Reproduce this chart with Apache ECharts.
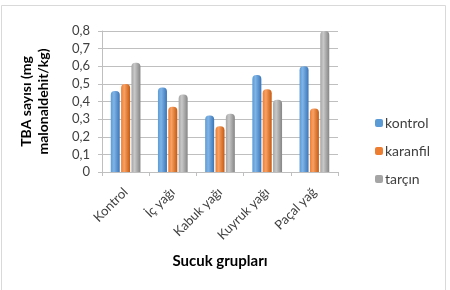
<!DOCTYPE html>
<html>
<head>
<meta charset="utf-8">
<script src="https://cdn.jsdelivr.net/npm/echarts@6/dist/echarts.min.js"></script>
<style>
  html, body { margin: 0; padding: 0; background: #fff; }
  #chart { width: 450px; height: 290px; }
</style>
</head>
<body>
<div id="chart"></div>
<script>
// data
const categories = ['Kontrol', 'İç yağı', 'Kabuk yağı', 'Kuyruk yağı', 'Paçal yağ'];
const kontrol  = [0.46, 0.48, 0.32, 0.55, 0.60];
const karanfil = [0.50, 0.37, 0.26, 0.47, 0.36];
const tarcin   = [0.62, 0.44, 0.33, 0.41, 0.80];
const yTicks   = [0, 0.1, 0.2, 0.3, 0.4, 0.5, 0.6, 0.7, 0.8];

const FONT = 'Lato';

// cylinder-ish horizontal shading
function shade(dark, mid, light) {
	return new echarts.graphic.LinearGradient(0, 0, 1, 0, [
		{ offset: 0, color: mid },
		{ offset: 0.35, color: light },
		{ offset: 1, color: dark }
	]);
}

function bar(name, data, grad) {
	return {
		name, type: 'bar', data,
		barWidth: 9, barGap: '15%',
		itemStyle: { color: grad, borderRadius: [4, 4, 0, 0] },
		emphasis: { disabled: true }
	};
}

let chart = echarts.init(document.getElementById('chart'), null, { renderer: 'canvas' });

chart.setOption({
	animation: false,
	textStyle: { fontFamily: FONT },
	graphic: [{
		type: 'rect', shape: { x: 1.5, y: 5.5, width: 444, height: 300 },
		style: { fill: null, stroke: '#d9d9d9', lineWidth: 1 }, silent: true
	}],
	grid: { left: 102, right: 112, top: 31, bottom: 118 },
	legend: {
		orient: 'vertical', left: 370, top: 111,
		itemWidth: 8, itemHeight: 8, itemGap: 14,
		textStyle: { fontFamily: FONT, fontSize: 14, color: '#404040', padding: [0, 0, 0, -3] },
		data: [
			{ name: 'kontrol', itemStyle: { color: '#5b9bd5' } },
			{ name: 'karanfil', itemStyle: { color: '#ed7d31' } },
			{ name: 'tarçın', itemStyle: { color: '#a5a5a5' } }
		]
	},
	xAxis: {
		type: 'category', data: categories,
		name: 'Sucuk grupları', nameLocation: 'middle', nameGap: 82,
		nameTextStyle: { fontFamily: FONT, fontSize: 15, fontWeight: 'bold', color: '#000' },
		axisLine: { lineStyle: { color: '#bfbfbf' } },
		axisTick: { show: true, length: 4, lineStyle: { color: '#bfbfbf' } },
		axisLabel: { rotate: 45, fontSize: 13, color: '#404040', margin: 18, interval: 0 }
	},
	yAxis: {
		type: 'value', min: 0, max: 0.8, interval: 0.1,
		name: 'TBA sayısı (mg\nmalonaldehit/kg)', nameLocation: 'middle', nameRotate: 90, nameGap: 50,
		nameTextStyle: { fontFamily: FONT, fontSize: 14, fontWeight: 'bold', color: '#000', lineHeight: 17 },
		axisLine: { show: true, lineStyle: { color: '#bfbfbf' } },
		axisTick: { show: true, length: 4, lineStyle: { color: '#bfbfbf' } },
		axisLabel: {
			fontSize: 13, color: '#404040', margin: 12,
			formatter: v => yTicks.includes(+v.toFixed(1)) ? String(+v.toFixed(1)).replace('.', ',') : ''
		},
		splitLine: { lineStyle: { color: '#bfbfbf' } }
	},
	series: [
		bar('kontrol', kontrol, shade('#3a75b8', '#5b9bd5', '#7fb4e6')),
		bar('karanfil', karanfil, shade('#c55a11', '#ed7d31', '#f8a164')),
		bar('tarçın', tarcin, shade('#858585', '#a5a5a5', '#c8c8c8'))
	]
});
</script>
</body>
</html>
